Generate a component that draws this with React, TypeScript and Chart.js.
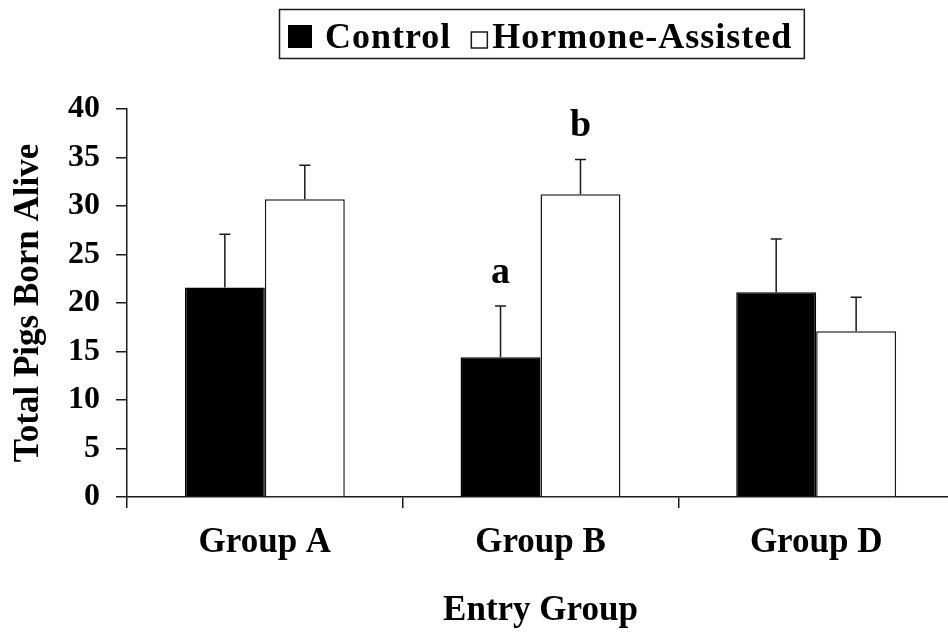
import React, { useEffect, useRef } from 'react';
import { Chart, registerables } from 'chart.js';

Chart.register(...registerables);

// ---- Data ----
const categories = ['Group A', 'Group B', 'Group D'];
const seriesNames = ['Control', 'Hormone-Assisted'];
const controlValues = [21.6, 14.4, 21.1];
const controlErrors = [5.5, 5.3, 5.5];
const hormoneValues = [30.7, 31.2, 17.1];
const hormoneErrors = [3.5, 3.6, 3.5];
const controlLetters = ['', 'a', ''];
const hormoneLetters = ['', 'b', ''];
const yMin = 0;
const yMax = 40;
const yStep = 5;
const yAxisTitle = 'Total Pigs Born Alive';
const xAxisTitle = 'Entry Group';

const FONT = "'Liberation Serif', 'Times New Roman', serif";
const INK = '#1a1a1a';

const errorBarPlugin = {
  id: 'errorBars',
  afterDatasetsDraw(chart: any) {
    const ctx = chart.ctx;
    const y = chart.scales.y;
    chart.data.datasets.forEach((ds: any, i: number) => {
      const meta = chart.getDatasetMeta(i);
      meta.data.forEach((bar: any, j: number) => {
        const v = ds.data[j];
        const e = ds.errors[j];
        const yBar = y.getPixelForValue(v);
        const yTop = y.getPixelForValue(v + e);
        ctx.save();
        ctx.strokeStyle = INK;
        ctx.lineWidth = 1.5;
        ctx.beginPath();
        ctx.moveTo(bar.x, yBar);
        ctx.lineTo(bar.x, yTop);
        ctx.moveTo(bar.x - 5.5, yTop);
        ctx.lineTo(bar.x + 5.5, yTop);
        ctx.stroke();
        const letter = ds.letters[j];
        if (letter) {
          ctx.font = `bold 38px ${FONT}`;
          ctx.fillStyle = '#000';
          ctx.textAlign = 'center';
          ctx.textBaseline = 'alphabetic';
          ctx.fillText(letter, bar.x, yTop - 23);
        }
        ctx.restore();
      });
    });
  },
};

const legendBoxPlugin = {
  id: 'legendBox',
  afterDraw(chart: any) {
    const ctx = chart.ctx;
    const ds = chart.data.datasets;
    ctx.save();
    ctx.font = `bold 36px ${FONT}`;
    try { (ctx as any).letterSpacing = '1px'; } catch (e) {}
    ctx.textAlign = 'left';
    ctx.textBaseline = 'alphabetic';
    const baseline = 48;
    const left = 279.5;
    let x = 288;
    // item 0: filled square
    ctx.fillStyle = ds[0].backgroundColor;
    ctx.fillRect(x, 25, 24, 23);
    x += 37;
    ctx.fillStyle = '#000';
    ctx.fillText(ds[0].label, x, baseline);
    x += ctx.measureText(ds[0].label).width + 20;
    // item 1: open square
    ctx.fillStyle = ds[1].backgroundColor;
    ctx.fillRect(x, 32, 16, 16);
    ctx.strokeStyle = INK;
    ctx.lineWidth = 1.5;
    ctx.strokeRect(x, 32, 16, 16);
    x += 21;
    ctx.fillStyle = '#000';
    ctx.fillText(ds[1].label, x, baseline);
    x += ctx.measureText(ds[1].label).width + 12;
    ctx.strokeStyle = INK;
    ctx.lineWidth = 1.5;
    ctx.strokeRect(left, 9.5, x - left, 49);
    ctx.restore();
  },
};

export default function App() {
  const ref = useRef<HTMLCanvasElement | null>(null);

  useEffect(() => {
    if (!ref.current) return;
    const chart = new Chart(ref.current, {
      type: 'bar',
      data: {
        labels: categories,
        datasets: [
          {
            label: seriesNames[0],
            data: controlValues,
            errors: controlErrors,
            letters: controlLetters,
            backgroundColor: '#000000',
            borderColor: '#000000',
            borderWidth: 1.5,
            categoryPercentage: 0.58,
            barPercentage: 1,
          } as any,
          {
            label: seriesNames[1],
            data: hormoneValues,
            errors: hormoneErrors,
            letters: hormoneLetters,
            backgroundColor: '#ffffff',
            borderColor: INK,
            borderWidth: 1.5,
            categoryPercentage: 0.58,
            barPercentage: 1,
          } as any,
        ],
      },
      options: {
        animation: false,
        responsive: false,
        devicePixelRatio: 1,
        layout: { padding: { top: 109, left: 0, right: 0, bottom: 0 } },
        plugins: {
          legend: { display: false },
          tooltip: { enabled: false },
        },
        scales: {
          x: {
            afterFit: (s: any) => { s.height = 136; },
            grid: { drawOnChartArea: false, drawTicks: true, tickLength: 11, color: INK, lineWidth: 1.5, offset: true },
            border: { display: true, color: INK, width: 1.5 },
            ticks: { color: '#000', padding: 14, font: { family: FONT, size: 35, weight: 'bold' } },
            title: {
              display: true,
              text: xAxisTitle,
              color: '#000',
              padding: { top: 0, bottom: 1 },
              font: { family: FONT, size: 35, weight: 'bold' },
            },
          },
          y: {
            min: yMin,
            max: yMax,
            afterFit: (s: any) => { s.width = 127; },
            grid: { drawOnChartArea: false, drawTicks: true, tickLength: 11, color: INK, lineWidth: 1.5 },
            border: { display: true, color: INK, width: 1.5 },
            ticks: { stepSize: yStep, color: '#000', padding: 16, font: { family: FONT, size: 32, weight: 'bold' } },
            title: {
              display: true,
              text: yAxisTitle,
              color: '#000',
              padding: { top: 8, bottom: 0 },
              font: { family: FONT, size: 35, weight: 'bold' },
            },
          },
        },
      } as any,
      plugins: [errorBarPlugin, legendBoxPlugin],
    });
    return () => chart.destroy();
  }, []);

  return (
    <div style={{ position: 'fixed', left: 0, top: 0, width: 948, height: 633, overflow: 'hidden', background: '#fff' }}>
      <canvas ref={ref} width={954} height={633} style={{ display: 'block' }} />
    </div>
  );
}
